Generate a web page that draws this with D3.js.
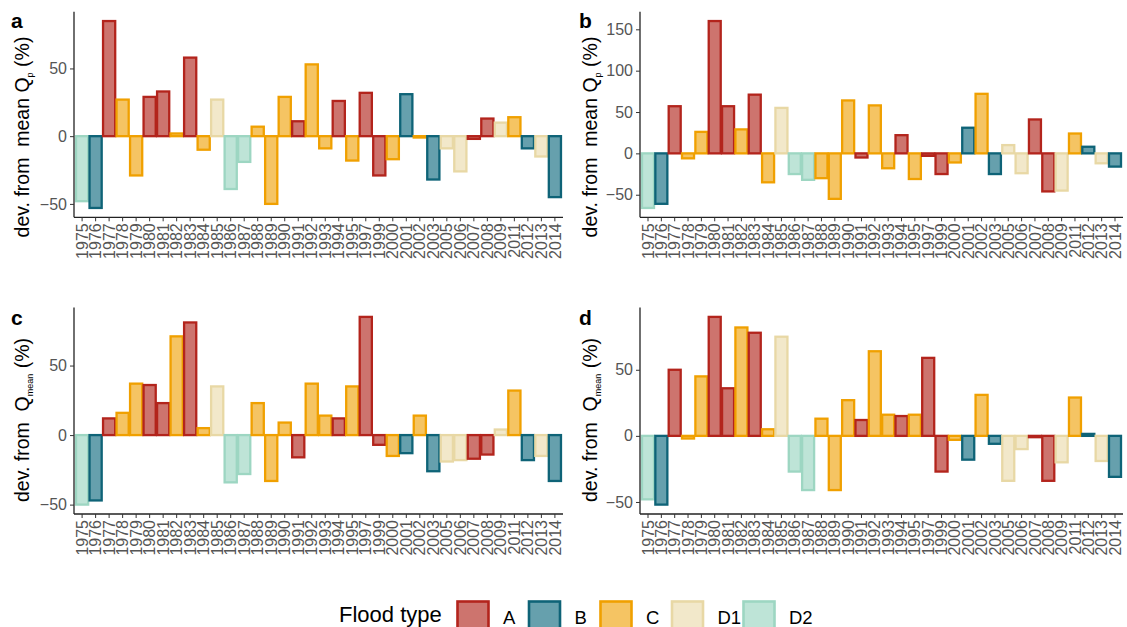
<!DOCTYPE html>
<html>
<head>
<meta charset="utf-8">
<script src="https://cdn.jsdelivr.net/npm/d3@7"></script>
<style>
  body { margin: 0; background: #fff; }
  svg { font-family: 'Liberation Sans', Arial, sans-serif; }
</style>
</head>
<body>
<script>
const years = ['1975', '1976', '1977', '1978', '1979', '1980', '1981', '1982', '1983', '1984',
  '1985', '1986', '1987', '1988', '1989', '1990', '1991', '1992', '1993', '1994', '1995',
  '1997', '1999', '2000', '2001', '2002', '2003', '2005', '2006', '2007', '2008', '2009',
  '2011', '2012', '2013', '2014']
const floodTypes = ['D2', 'B', 'A', 'C', 'C', 'A', 'A', 'C', 'A', 'C', 'D1', 'D2', 'D2', 'C', 'C',
  'C', 'A', 'C', 'C', 'A', 'C', 'A', 'A', 'C', 'B', 'C', 'B', 'D1', 'D1', 'A', 'A', 'D1',
  'C', 'B', 'D1', 'B']
// dev. from mean Qp (%)
const devQpA = [-48, -53, 85, 27, -29, 29, 33, 2, 58, -10, 27, -39, -19, 7, -50, 29, 11, 53, -9,
  26, -18, 32, -29, -17, 31, -1, -32, -9, -26, -2, 13, 10, 14, -9, -15, -45]
const devQpB = [-66, -61, 57, -6, 26, 160, 57, 29, 71, -35, 55, -25, -32, -30, -55, 64, -5, 58,
  -18, 22, -31, -3, -25, -11, 31, 72, -25, 10, -24, 41, -46, -45, 24, 8, -12, -16]
// dev. from Qmean (%)
const devQmeanC = [-50, -47, 12, 16, 37, 36, 23, 71, 81, 5, 35, -34, -28, 23, -33, 9, -16, 37,
  14, 12, 35, 85, -7, -15, -13, 14, -26, -19, -18, -17, -14, 4, 32, -18, -15, -33]
const devQmeanD = [-48, -52, 50, -2, 45, 90, 36, 82, 78, 5, 75, -27, -41, 13, -41, 27, 12, 64,
  16, 15, 16, 59, -27, -3, -18, 31, -6, -34, -10, -1, -34, -20, 29, 1.5, -19, -31]

const ticksSmall = [-50, 0, 50]
const ticksLarge = [-50, 0, 50, 100, 150]
const typeNames = ['A', 'B', 'C', 'D1', 'D2']
const strokeColors = ['#b3241c', '#0e6377', '#f0a000', '#e8d8a5', '#9dd6c2']
const fillColors = ['#cd746e', '#66a0ad', '#f5c463', '#f2e8ca', '#bee4d7']

const svg = d3.select('body').append('svg').attr('width', 1127).attr('height', 627)

const fill = d3.scaleOrdinal().domain(typeNames).range(fillColors)
const stroke = d3.scaleOrdinal().domain(typeNames).range(strokeColors)

function drawPanel(opt) {
  const data = years.map((y, i) => ({ year: y, type: floodTypes[i], value: opt.values[i] }))
  const [lo, hi] = d3.extent(opt.values)
  const pad = (hi - lo) * 0.05
  const x = d3.scaleBand().domain(years).range([opt.left, opt.right])
    .paddingInner(0.1).paddingOuter(0.15)
  const y = d3.scaleLinear().domain([lo - pad, hi + pad]).range([opt.bottom, opt.top])

  const g = svg.append('g')

  g.append('g').selectAll('rect')
    .data(data)
    .enter()
    .append('rect')
    .attr('x', (d) => x(d.year))
    .attr('width', x.bandwidth())
    .attr('y', (d) => y(Math.max(0, d.value)))
    .attr('height', (d) => Math.abs(y(d.value) - y(0)))
    .attr('fill', (d) => fill(d.type))
    .attr('stroke', (d) => stroke(d.type))
    .attr('stroke-width', 2.3)

  const yAxis = g.append('g')
    .attr('transform', `translate(${opt.left},0)`)
    .call(d3.axisLeft(y).tickValues(opt.ticks).tickSize(4).tickPadding(3))
  const xAxis = g.append('g')
    .attr('transform', `translate(0,${opt.bottom})`)
    .call(d3.axisBottom(x).tickSize(4).tickPadding(3))
  ;[yAxis, xAxis].forEach((a) => {
    a.select('.domain').attr('stroke', '#222').attr('stroke-width', 1.3)
    a.selectAll('.tick line').attr('stroke', '#333').attr('stroke-width', 1)
    a.selectAll('.tick text').attr('fill', '#555').style('font-size', '16px')
  })
  yAxis.select('.domain').attr('d', `M0,${opt.top}V${opt.bottom}`)
  xAxis.select('.domain').attr('d', `M${opt.left},0H${opt.right}`)
  xAxis.selectAll('.tick text')
    .attr('transform', 'rotate(-90)')
    .attr('text-anchor', 'end')
    .attr('dy', '0.35em')
    .attr('x', -6)
    .attr('y', 0)

  svg.append('text')
    .attr('x', opt.letterX).attr('y', opt.letterY)
    .style('font-size', '21px').style('font-weight', 'bold')
    .text(opt.letter)

  const title = svg.append('text')
    .attr('transform', `translate(${opt.titleX},${opt.titleY}) rotate(-90)`)
    .attr('text-anchor', 'middle')
    .attr('dy', '0.35em')
    .style('font-size', '19.5px')
    .style('white-space', 'pre')
  title.append('tspan').text(opt.titleMain)
  title.append('tspan').attr('dy', 4).style('font-size', '9px').text(opt.titleSub)
  title.append('tspan').attr('dy', -4).text(' (%)')
}

drawPanel({ letter: 'a', values: devQpA, ticks: ticksSmall, left: 74, right: 563, top: 11.7, bottom: 217.3,
  letterX: 11, letterY: 28, titleX: 22, titleY: 137, titleMain: 'dev. from  mean Q', titleSub: 'p' })
drawPanel({ letter: 'b', values: devQpB, ticks: ticksLarge, left: 640, right: 1123, top: 11.7, bottom: 217.3,
  letterX: 579, letterY: 28, titleX: 590, titleY: 137, titleMain: 'dev. from  mean Q', titleSub: 'p' })
drawPanel({ letter: 'c', values: devQmeanC, ticks: ticksSmall, left: 74, right: 563, top: 307.5, bottom: 514,
  letterX: 11, letterY: 325, titleX: 22, titleY: 420, titleMain: 'dev. from  Q', titleSub: 'mean' })
drawPanel({ letter: 'd', values: devQmeanD, ticks: ticksSmall, left: 640, right: 1123, top: 307.5, bottom: 514,
  letterX: 579, letterY: 325, titleX: 590, titleY: 420, titleMain: 'dev. from  Q', titleSub: 'mean' })

// legend
const legend = svg.append('g')
legend.append('text').attr('x', 339).attr('y', 622).style('font-size', '22px').text('Flood type')
const keyX = d3.scalePoint().domain(typeNames).range([456, 742])
const keys = legend.selectAll('g.key').data(typeNames).enter().append('g').attr('class', 'key')
keys.append('rect')
  .attr('x', (d) => keyX(d) + 1.5).attr('y', 601.5)
  .attr('width', 31).attr('height', 31)
  .attr('fill', (d) => fill(d)).attr('stroke', (d) => stroke(d)).attr('stroke-width', 2.6)
keys.append('text')
  .attr('x', (d) => keyX(d) + 47).attr('y', 624)
  .style('font-size', '18.5px')
  .text((d) => d)
</script>
</body>
</html>
